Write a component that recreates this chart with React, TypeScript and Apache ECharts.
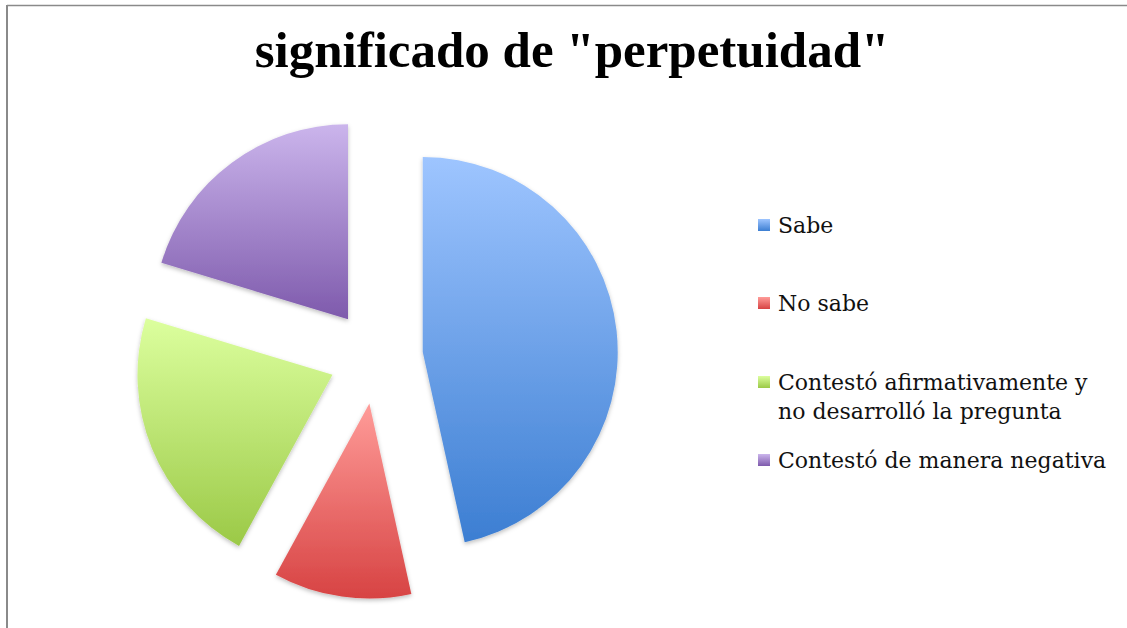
import React, { useEffect, useRef } from "react";
import * as echarts from "echarts";

const titleText = 'significado de "perpetuidad"';
const categories = [
  "Sabe",
  "No sabe",
  "Contestó afirmativamente y no desarrolló la pregunta",
  "Contestó de manera negativa",
];
const legendLabels = [
  ["Sabe"],
  ["No sabe"],
  ["Contestó afirmativamente y", "no desarrolló la pregunta"],
  ["Contestó de manera negativa"],
];
const values = [46.5, 11.4, 21.7, 20.3];
const topColors = ["#9ec5ff", "#ff9c99", "#dcff9e", "#cbb5ec"];
const bottomColors = ["#3c7ed2", "#d74343", "#9bc947", "#7e5aac"];
const legendCenters = [225, 303, 382, 460];

function grad(i: number) {
  return new echarts.graphic.LinearGradient(0, 0, 0, 1, [
    { offset: 0, color: topColors[i] },
    { offset: 1, color: bottomColors[i] },
  ]);
}

export default function App() {
  const ref = useRef<HTMLDivElement>(null);
  useEffect(() => {
    if (!ref.current) return;
    const chart = echarts.init(ref.current, undefined, { renderer: "svg" });
    const lh = 29;
    const legends = categories.map((name, i) => {
      const lines = legendLabels[i];
      const txt = lines.length > 1 ? " \n" + lines.join("\n") : lines[0];
      const blockH = lines.length > 1 ? lh * (lines.length * 2 - 1) : lh;
      return {
        data: [name],
        orient: "vertical",
        left: 758,
        top: legendCenters[i] - blockH / 2,
        padding: 0,
        itemWidth: 12,
        itemHeight: 12,
        icon: "rect",
        selectedMode: false,
        formatter: () => txt,
        textStyle: {
          fontFamily: "DejaVu Serif",
          fontSize: 22,
          color: "#111",
          lineHeight: lh,
          padding: [0, 0, 0, 3],
        },
      };
    });
    chart.setOption({
      animation: false,
      backgroundColor: "#ffffff",
      title: {
        text: titleText,
        left: 572,
        textAlign: "center",
        top: 24,
        padding: 0,
        textStyle: {
          fontFamily: "Liberation Serif",
          fontWeight: "bold",
          fontSize: 51,
          color: "#000",
        },
      },
      legend: legends,
      graphic: [
        { type: "line", shape: { x1: 7, y1: 5.5, x2: 1127, y2: 5.5 }, style: { stroke: "#8a8a8a", lineWidth: 1.5 } },
        { type: "line", shape: { x1: 7, y1: 5, x2: 7, y2: 628 }, style: { stroke: "#8a8a8a", lineWidth: 2 } },
      ],
      series: [
        {
          type: "pie",
          center: [376, 357],
          radius: [0, 195],
          startAngle: 90,
          clockwise: true,
          selectedMode: "multiple",
          selectedOffset: 47,
          label: { show: false },
          labelLine: { show: false },
          emphasis: { disabled: true },
          itemStyle: {
            shadowBlur: 4,
            shadowColor: "rgba(0,0,0,0.25)",
            shadowOffsetY: 2,
          },
          data: categories.map((name, i) => ({
            name,
            value: values[i],
            selected: true,
            itemStyle: { color: grad(i) },
            select: { itemStyle: { color: grad(i) } },
          })),
        },
      ],
    });
    return () => chart.dispose();
  }, []);
  return (
    <div
      ref={ref}
      style={{ position: "fixed", left: 0, top: 0, width: 1127, height: 628 }}
    />
  );
}
